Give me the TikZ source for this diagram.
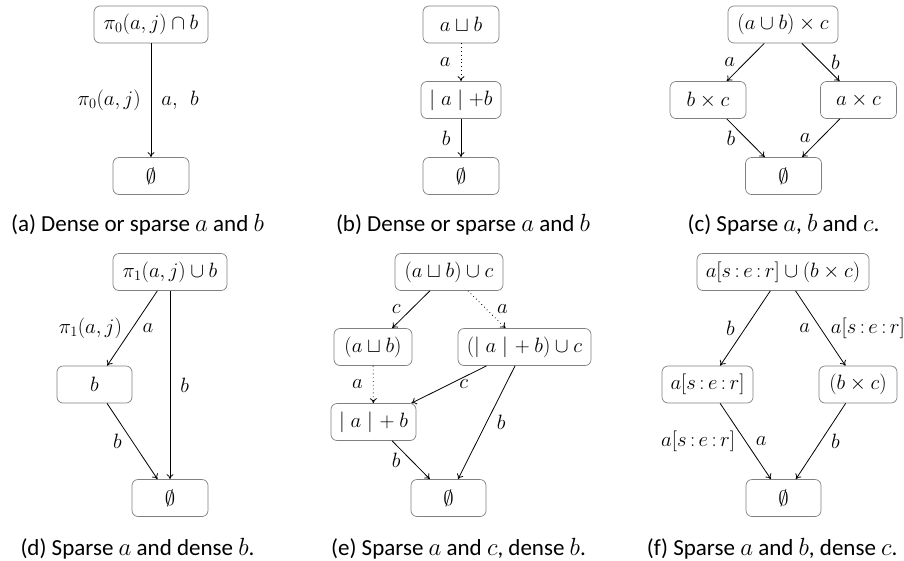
\documentclass[tikz,border=0pt]{standalone}
\usepackage[no-math]{fontspec}
\setmainfont{Carlito}
\usetikzlibrary{arrows.meta}
\newcommand{\ser}{a[s\,{:}\,e\,{:}\,r]}
\begin{document}
\begin{tikzpicture}[x=1pt,y=-1pt,
  box/.style={draw=black!50, rounded corners=6pt, line width=0.7pt, minimum height=37pt, inner sep=0pt, font=\fontsize{20}{22}\selectfont},
  arr/.style={-{To[length=5pt,width=7pt]}, line width=0.8pt},
  dots/.style={arr, dash pattern=on 0.8pt off 3pt},
  lab/.style={font=\fontsize{20}{22}\selectfont, inner sep=0pt, midway},
  captext/.style={font=\fontsize{23}{26}\selectfont, anchor=base}]
\useasboundingbox (0,0) rectangle (904,560);
% (a)
\node[box, minimum width=114pt] (a1) at (151,24.5) {$\pi_0(a,j)\cap b$};
\node[box, minimum width=76pt] (a2) at (151,176) {$\emptyset$};
\draw[arr] (a1) -- (a2) node[lab,left=10pt]{$\pi_0(a,j)$} node[lab,right=10pt]{$a,\ \ b$};
\node[captext] (capa) at (137.5,231.5) {(a) Dense or sparse $a$ and $b$};
% (b)
\node[box, minimum width=76pt] (b1) at (461,24.5) {$a\sqcup b$};
\node[box, minimum width=80pt] (b2) at (461,100) {$\mid a\mid +b$};
\node[box, minimum width=76pt] (b3) at (461,176) {$\emptyset$};
\draw[dots] (b1) -- (b2) node[lab,left=10pt]{$a$};
\draw[arr] (b2) -- (b3) node[lab,left=10pt]{$b$};
\node[captext] (capb) at (463,231.5) {(b) Dense or sparse $a$ and $b$};
% (c)
\node[box, minimum width=110pt] (c1) at (783,24.5) {$(a\cup b)\times c$};
\node[box, minimum width=76pt] (c2) at (708,100) {$b\times c$};
\node[box, minimum width=76pt] (c3) at (858.5,100) {$a\times c$};
\node[box, minimum width=76pt] (c4) at (783.5,176) {$\emptyset$};
\draw[arr] (c1) -- (c2) node[lab,left=10pt]{$a$};
\draw[arr] (c1) -- (c3) node[lab,right=10pt]{$b$};
\draw[arr] (c2) -- (c4) node[lab,left=10pt]{$b$};
\draw[arr] (c3) -- (c4) node[lab,left=10pt]{$a$};
\node[captext] (capc) at (783.5,231.5) {(c) Sparse $a$, $b$ and $c$.};
% (d)
\node[box, minimum width=114pt] (d1) at (170,272) {$\pi_1(a,j)\cup b$};
\node[box, minimum width=75pt] (d2) at (94.5,384.5) {$b$};
\node[box, minimum width=76pt] (d3) at (170,498) {$\emptyset$};
\draw[arr] (d1) -- (d2) node[lab,left=10pt]{$\pi_1(a,j)$} node[lab,right=10pt]{$a$};
\draw[arr] (d1) -- (d3) node[lab,right=10pt]{$b$};
\draw[arr] (d2) -- (d3) node[lab,left=10pt]{$b$};
\node[captext] (capd) at (137.5,555) {(d) Sparse $a$ and dense $b$.};
% (e)
\node[box, minimum width=108pt] (e1) at (449,272) {$(a\sqcup b)\cup c$};
\node[box, minimum width=78pt] (e2) at (373,347) {$(a\sqcup b)$};
\node[box, minimum width=133pt] (e3) at (524.5,347) {$(\mid a\mid\!{}+b)\cup c$};
\node[box, minimum width=85pt] (e4) at (373.5,422) {$\mid a\mid\!{}+b$};
\node[box, minimum width=75pt] (e5) at (448.5,498) {$\emptyset$};
\draw[arr] (e1) -- (e2) node[lab,left=10pt]{$c$};
\draw[dots] (e1) -- (e3) node[lab,right=10pt]{$a$};
\draw[dots] (e2) -- (e4) node[lab,left=10pt]{$a$};
\draw[arr] (e3) -- (e4) node[lab,right=10pt]{$c$};
\draw[arr] (e3) -- (e5) node[lab,right=10pt]{$b$};
\draw[arr] (e4) -- (e5) node[lab,left=10pt]{$b$};
\node[captext] (cape) at (458.5,555) {(e) Sparse $a$ and $c$, dense $b$.};
% (f)
\node[box, minimum width=172pt] (f1) at (783,272) {$\ser\cup(b\times c)$};
\node[box, minimum width=91pt] (f2) at (707.5,384.5) {$\ser$};
\node[box, minimum width=78pt] (f3) at (858,384.5) {$(b\times c)$};
\node[box, minimum width=75pt] (f4) at (783.5,498) {$\emptyset$};
\draw[arr] (f1) -- (f2) node[lab,left=10pt]{$b$};
\draw[arr] (f1) -- (f3) node[lab,left=10pt]{$a$} node[lab,right=10pt]{$\ser$};
\draw[arr] (f2) -- (f4) node[lab,left=10pt]{$\ser$} node[lab,right=10pt]{$a$};
\draw[arr] (f3) -- (f4) node[lab,right=10pt]{$b$};
\node[captext, anchor=base east] (capf) at (901,555) {(f) Sparse $a$ and $b$, dense $c$.};
\end{tikzpicture}
\end{document}
